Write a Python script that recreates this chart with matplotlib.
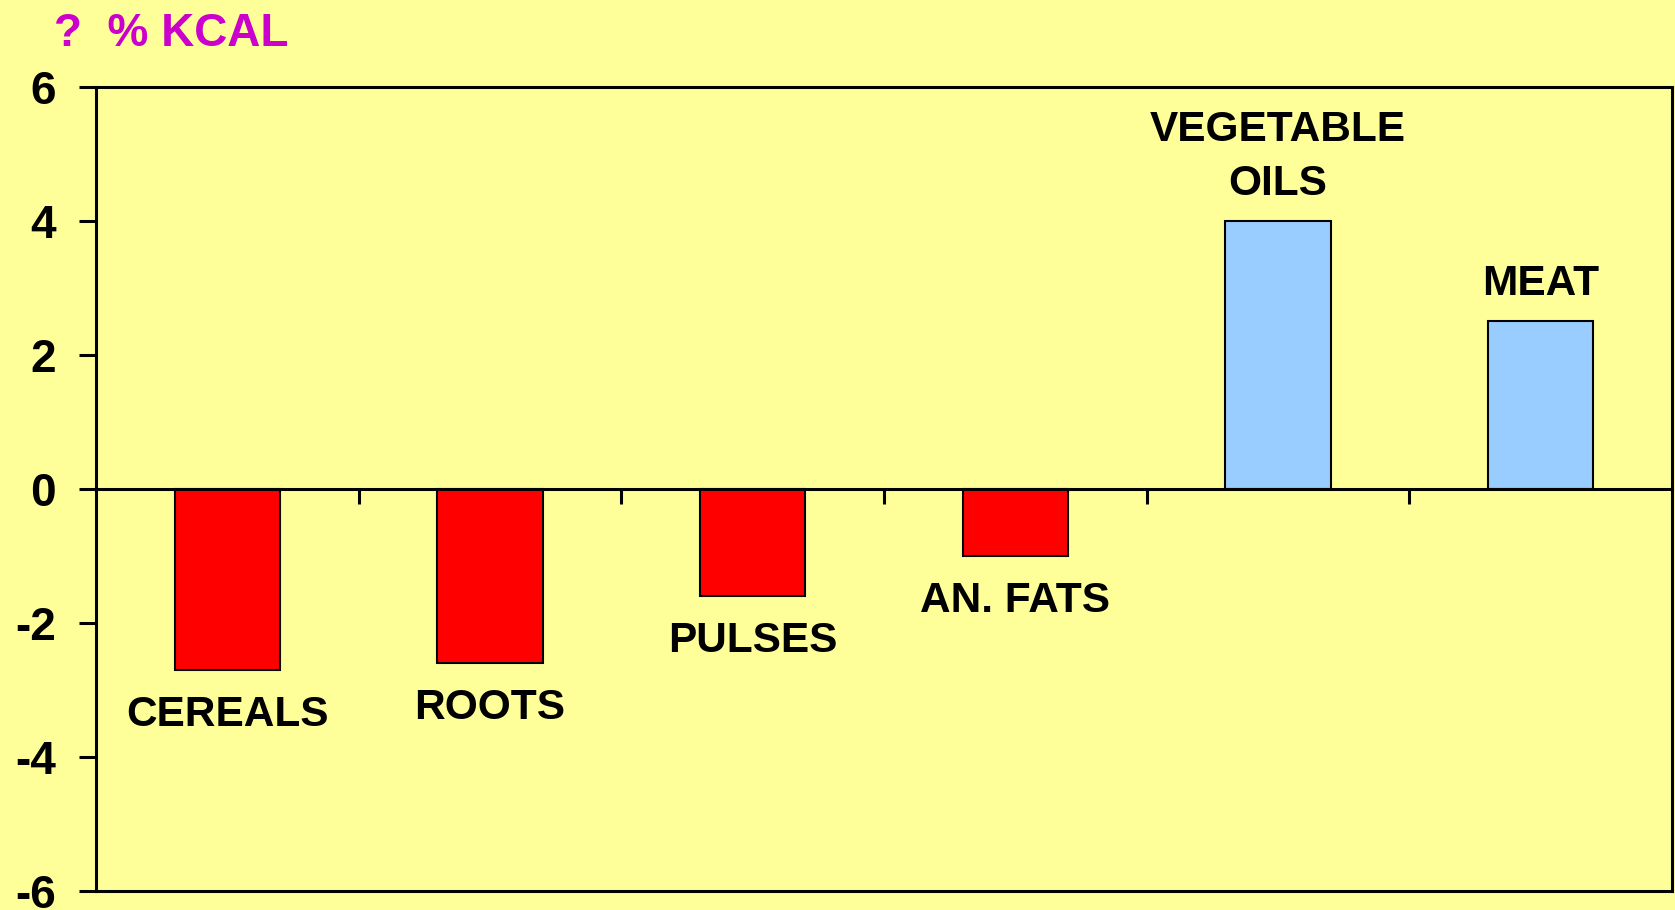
import matplotlib.pyplot as plt
import numpy as np

# Change in share of kcal by food group
categories = ["CEREALS", "ROOTS", "PULSES", "AN. FATS", "VEGETABLE\nOILS", "MEAT"]
values = [-2.7, -2.6, -1.6, -1.0, 4.0, 2.5]
yticks = [-6, -4, -2, 0, 2, 4, 6]

bg = '#FFFF99'
neg_color = '#FF0000'
pos_color = '#99CCFF'

plt.rcParams['font.family'] = ['Liberation Sans', 'DejaVu Sans']
plt.rcParams['font.weight'] = 'bold'

fig = plt.figure(figsize=(16.75, 9.10), dpi=100, facecolor=bg)
ax = fig.add_axes([0.0573, 0.0209, 0.9409, 0.8835], facecolor=bg)

x = np.arange(len(categories))
colors = [pos_color if v > 0 else neg_color for v in values]
ax.bar(x, values, width=0.4, color=colors, edgecolor='black', linewidth=1.5, zorder=2)

for xi, v, name in zip(x, values, categories):
    if v < 0:
        ax.annotate(name, (xi, v), xytext=(0, -18), textcoords='offset points',
                    ha='center', va='top', fontsize=30.5, fontweight='bold')
    else:
        ax.annotate(name, (xi, v), xytext=(0, 19), textcoords='offset points',
                    ha='center', va='baseline', fontsize=30.5, fontweight='bold',
                    multialignment='center', linespacing=1.45)

ax.set_xlim(-0.5, len(categories) - 0.5)
ax.set_ylim(yticks[0], yticks[-1])
ax.set_yticks(yticks)
ax.set_yticklabels([str(t) for t in yticks], fontsize=33, fontweight='bold')
ax.tick_params(axis='y', direction='out', length=12, width=2.2, pad=17)

# category axis crosses at zero, ticks between categories
ax.spines['bottom'].set_position(('data', 0))
ax.set_xticks(x[:-1] + 0.5)
ax.set_xticklabels([])
ax.tick_params(axis='x', direction='out', length=11, width=2.2)
for s in ax.spines.values():
    s.set_linewidth(2.2)
    s.set_zorder(3)
ax.axhline(yticks[0], color='black', linewidth=2.2, clip_on=False, zorder=3)

fig.text(0.032, 0.963, "?  % KCAL", color='#CC00CC', fontsize=33, fontweight='bold',
         ha='left', va='center')

fig.savefig("out.png", dpi=100, facecolor=bg)
